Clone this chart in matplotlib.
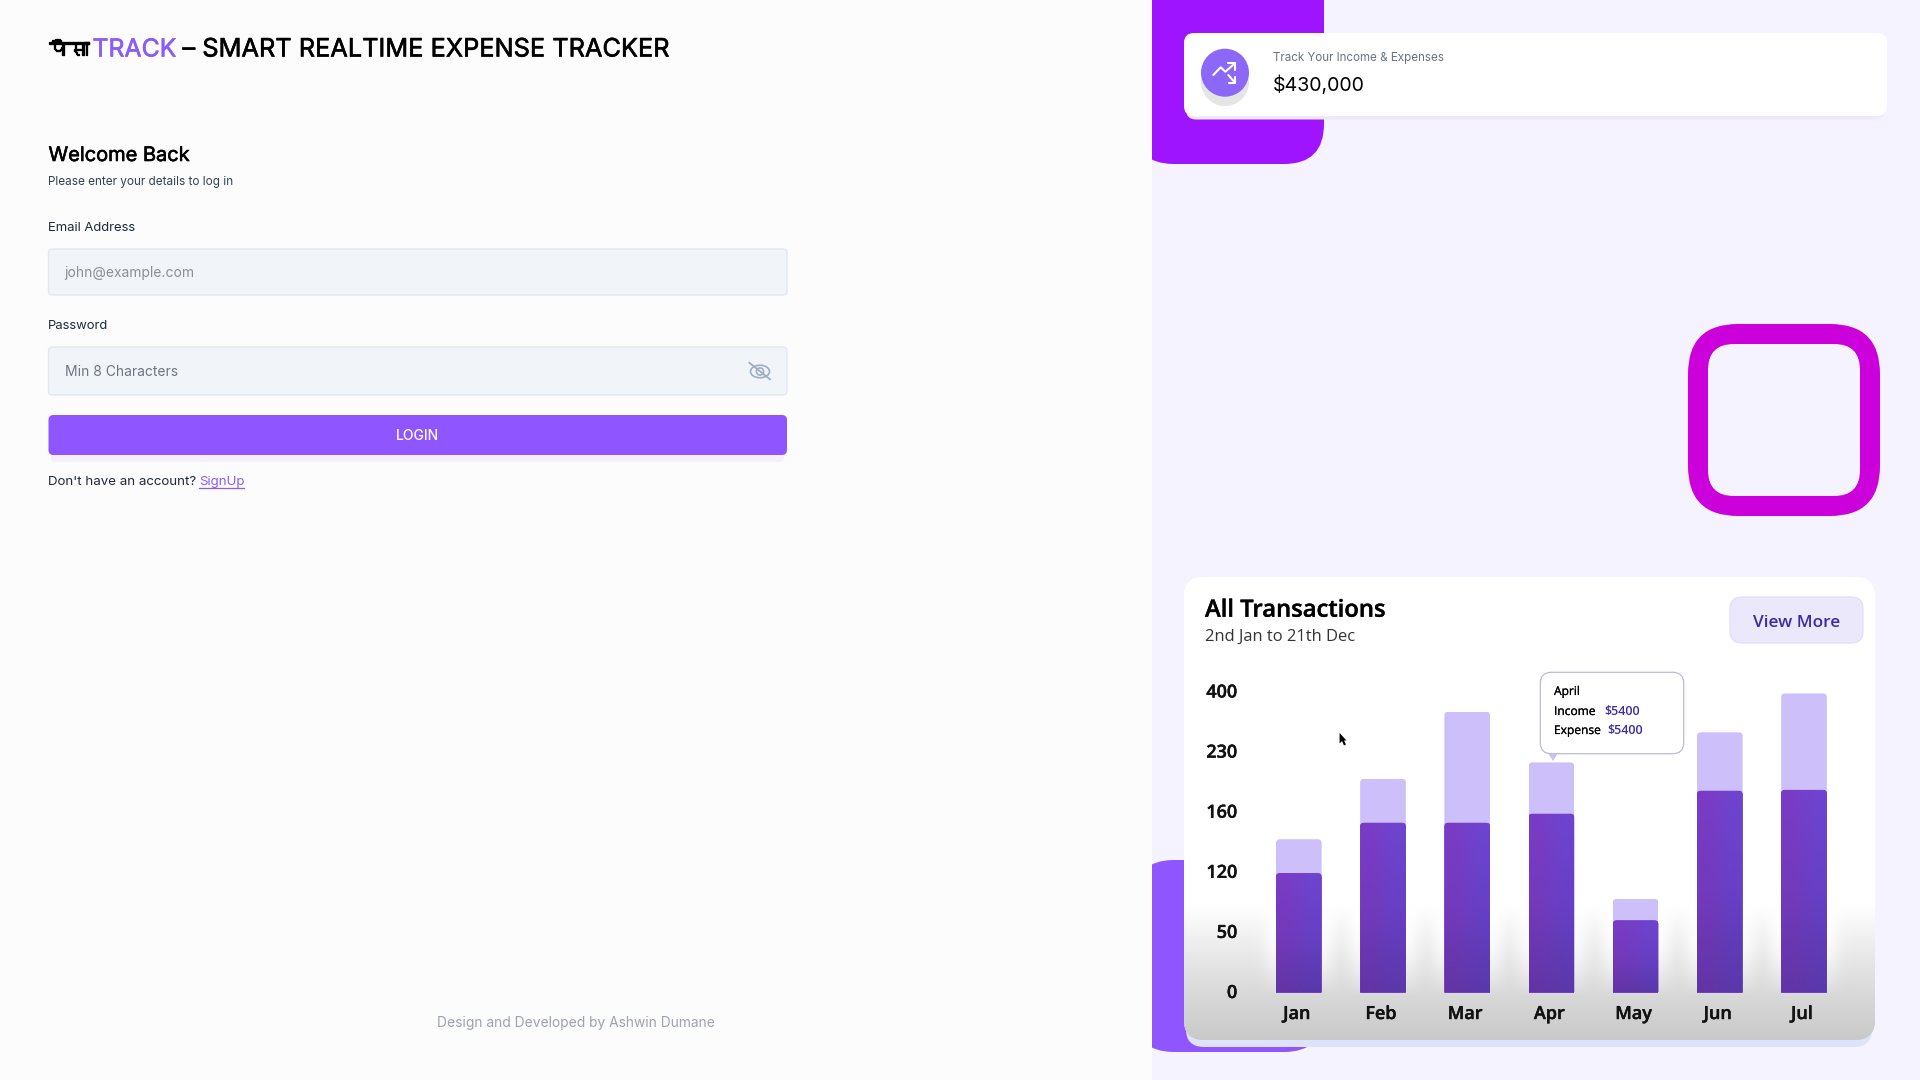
# -*- coding: utf-8 -*-
import numpy as np
import matplotlib
matplotlib.use("Agg")
import matplotlib.pyplot as plt
import matplotlib.patheffects as pe
from matplotlib import font_manager
from matplotlib.ft2font import FT2Font
from matplotlib.patches import FancyBboxPatch, Rectangle, Circle, Ellipse, Polygon
from matplotlib.transforms import ScaledTranslation

# chart data
months = ["Jan", "Feb", "Mar", "Apr", "May", "Jun", "Jul"]
total_values = [142, 199, 344, 218, 89, 286, 396]
income_values = [119, 153, 153, 159, 64, 185, 186]
y_tick_values = [0, 50, 120, 160, 230, 400]
y_tick_labels = ["0", "50", "120", "160", "230", "400"]

# look for something that can draw the hindi word
hindi_font = "DejaVu Sans"
for f in font_manager.fontManager.ttflist:
    try:
        if 0x92A in FT2Font(f.fname).get_charmap():
            hindi_font = f.name
            break
    except Exception:
        pass

UI = "Inter"
POP = "Open Sans"
VIOLET = "#8F55FF"
first_x, step = 1298.8, 84.2
bar_w = 45.7


def rrect(ax, x0, y0, x1, y1, r, **kw):
    p = FancyBboxPatch((x0, y0), x1 - x0, y1 - y0,
                       boxstyle="round,pad=0,rounding_size=%g" % r, linewidth=kw.pop("lw", 0), **kw)
    ax.add_patch(p)
    return p


def txt(ax, x, y, s, px, color="black", family=UI, weight="normal", stroke=0, **kw):
    kw.setdefault("va", "baseline")
    t = ax.text(x, y, s, fontsize=px * 0.72, color=color, family=family, weight=weight, **kw)
    if stroke:
        t.set_path_effects([pe.withStroke(linewidth=stroke * 0.72, foreground=color)])
    return t


fig = plt.figure(figsize=(19.2, 10.8), dpi=100)
bg = fig.add_axes([0, 0, 1, 1], zorder=0)
bg.set_xlim(0, 1920)
bg.set_ylim(1080, 0)
bg.axis("off")

# right panel
bg.add_patch(Rectangle((1152, 0), 768, 1080, fc="#F5F3FF", lw=0))
rrect(bg, 1134, -60, 1324, 164, 40, fc="#9F14FF")
rrect(bg, 1134, 860, 1324, 1052, 40, fc=VIOLET)
rrect(bg, 1688, 324, 1880, 516, 50, fc="#CB00DB")
rrect(bg, 1708, 344, 1860, 496, 26, fc="#F5F3FF")

# left panel sits on top of the blobs
bg.add_patch(Rectangle((0, 0), 1152, 1080, fc="#FCFCFD", lw=0, zorder=3))
lz = dict(zorder=4)

txt(bg, 48.5, 56, "पैसा", 20, family=hindi_font, weight="bold", stroke=1.3, **lz)
txt(bg, 92.5, 56.5, "TRACK", 24.8, color="#8B5CF6", stroke=0.6, **lz)
txt(bg, 182.5, 56.5, "– SMART REALTIME EXPENSE TRACKER", 25.35, stroke=0.6, **lz)

txt(bg, 48.5, 161, "Welcome Back", 20, stroke=0.6, **lz)
txt(bg, 48.5, 185, "Please enter your details to log in", 11.75, color="#334155", **lz)
txt(bg, 48.5, 231, "Email Address", 13, color="#1E293B", **lz)
txt(bg, 48, 329, "Password", 13, color="#1E293B", **lz)

for y0, y1 in [(249, 295), (347, 395)]:
    rrect(bg, 48.5, y0, 787, y1, 4, fc="#F1F5F9", ec="#E2E8F0", lw=1, **lz)
txt(bg, 64.3, 277, "john@example.com", 13.85, color="#8A8F98", **lz)
txt(bg, 65, 376, "Min 8 Characters", 13.85, color="#6F7680", **lz)

# eye icon with the slash through it
eye = "#9FADC1"
bg.add_patch(Ellipse((760, 371.5), 19, 12.5, fc="none", ec=eye, lw=1.2, zorder=4))
bg.add_patch(Circle((760, 371.5), 3.6, fc="none", ec=eye, lw=1.2, zorder=4))
bg.plot([749.3, 770], [362.7, 379.3], color=eye, lw=1.3, zorder=4)

rrect(bg, 51, 440, 784, 462, 4, fc="#F6EFFD", **lz)
rrect(bg, 48.5, 415, 787, 455, 5, fc=VIOLET, zorder=4)
txt(bg, 417.5, 440, "LOGIN", 14, color="white", ha="center", weight="medium", **lz)

txt(bg, 48.5, 485, "Don't have an account?", 13.3, color="#1E293B", **lz)
txt(bg, 199, 485, "SignUp", 13.3, color="#8B5CF6", **lz)
bg.plot([199, 244], [487.5, 487.5], color="#8B5CF6", lw=0.9, zorder=4)

txt(bg, 576, 1027, "Design and Developed by Ashwin Dumane", 13.8, color="#9CA3AF", ha="center", **lz)

# top card
rrect(bg, 1186, 40, 1885, 119.5, 10, fc="#F0E8FD")
rrect(bg, 1184, 33, 1887, 116, 10, fc="white")
bg.add_patch(Circle((1225, 82), 24, fc="#E5E5E5", lw=0))
bg.add_patch(Circle((1225, 72.7), 24, fc="#8C68F8", lw=0))
icon = dict(color="white", lw=1.5, solid_capstyle="round", solid_joinstyle="round")
bg.plot([1213.3, 1220.7, 1225.3, 1235], [75, 67.3, 71.7, 63.3], **icon)
bg.plot([1228.3, 1235.3, 1235.3], [63.3, 63.3, 70], **icon)
bg.plot([1228.3, 1235], [75, 82.7], **icon)
bg.plot([1235.3, 1235.3, 1229.3], [76.7, 82.7, 82.7], **icon)
txt(bg, 1273, 61, "Track Your Income & Expenses", 11.6, color="#6B7280")
txt(bg, 1273, 91, "$430,000", 19.6)

# transactions card, white fading into gray at the bottom, lighter right next to the bars
rrect(bg, 1186, 1000, 1872, 1047, 18, fc="#DDE3FB")
card = rrect(bg, 1184, 577, 1875, 1040, 20, fc="white")
rrect(bg, 1184, 960, 1875, 1040, 20, fc="#CCCCCC")
xs = np.arange(1184, 1875, 2.0)
ys = np.arange(577, 1041, 2.0)
gx, gy = np.meshgrid(xs, ys)
shade = np.interp(gy, [577, 905, 947, 980, 1040], [255, 255, 236, 222, 201])
centers = first_x + step * np.arange(len(months))
dist = np.min(np.abs(gx[..., None] - centers), axis=-1) - bar_w / 2
dist = np.clip(dist, 0, None)
near = np.exp(-(dist / 13.0) ** 2) * np.interp(gy, [905, 945, 975, 995], [1, 0.75, 0.3, 0])
shade = (shade + (255 - shade) * near) / 255.0
im = bg.imshow(np.dstack([shade, shade, shade]), extent=(1184, 1875, 1040, 577),
               aspect="auto", interpolation="bilinear", zorder=1.5)
im.set_clip_path(card)
bg.set_xlim(0, 1920)
bg.set_ylim(1080, 0)

txt(bg, 1205, 616.7, "All Transactions", 23.8, family=POP, weight="semibold", stroke=0.35, zorder=2)
txt(bg, 1205, 641, "2nd Jan to 21th Dec", 16.5, family=POP, color="#333333", zorder=2)
rrect(bg, 1730, 597, 1863, 643, 12, fc="#ECE8FB", ec="#E4DFF8", lw=1, zorder=2)
txt(bg, 1797, 627, "View More", 17.3, color="#3E2BA6", family=POP, weight="semibold", ha="center", zorder=2)

# bar chart on its own axes, ticks are unevenly spaced in value
ax_l, ax_r, ax_t, ax_b = 1240, 1860, 692, 992.5
ax = fig.add_axes([ax_l / 1920, 1 - ax_b / 1080, (ax_r - ax_l) / 1920, (ax_b - ax_t) / 1080], zorder=1)
ax.patch.set_visible(False)
pos = np.arange(len(y_tick_values))
ax.set_yscale("function", functions=(lambda v: np.interp(v, y_tick_values, pos),
                                     lambda p: np.interp(p, pos, y_tick_values)))
ax.set_xlim((ax_l - first_x) / step, (ax_r - first_x) / step)
ax.set_ylim(0, 400)
x = np.arange(len(months))
light = ax.bar(x, total_values, width=bar_w / step, color="#CDBFF9")
dark = ax.bar(x, income_values, width=bar_w / step, color="#6F3FC8")
ax.set_xticks(x, months)
ax.set_yticks(y_tick_values, y_tick_labels)
ax.tick_params(length=0, pad=2)
ax.tick_params(axis="x", pad=9)
for lab in ax.get_xticklabels() + ax.get_yticklabels():
    lab.set(family=POP, weight="semibold", fontsize=18 * 0.72, color="#111111")
    lab.set_path_effects([pe.withStroke(linewidth=0.3, foreground="#111111")])
for lab in ax.get_xticklabels():
    lab.set_transform(lab.get_transform() + ScaledTranslation(-2 / 100, 0, fig.dpi_scale_trans))
for lab in ax.get_yticklabels():
    lab.set_transform(lab.get_transform() + ScaledTranslation(0, 1.5 / 100, fig.dpi_scale_trans))
for s in ax.spines.values():
    s.set_visible(False)

# overlay for gradients and tooltip, same pixel coordinates as bg
ov = fig.add_axes([0, 0, 1, 1], zorder=2)
ov.patch.set_visible(False)
ov.axis("off")
ov.set_xlim(0, 1920)
ov.set_ylim(1080, 0)

fig.canvas.draw()
rend = fig.canvas.get_renderer()


def round_clip(bar):
    e = bar.get_window_extent(rend)
    y0, y1 = 1080 - e.y1, 1080 - e.y0
    p = FancyBboxPatch((e.x0, y0), e.width, y1 - y0 + 8, boxstyle="round,pad=0,rounding_size=4")
    p.set_transform(ov.transData)
    return p, (e.x0, e.x1, y1, y0)


corners = np.array([[[0x7A, 0x3C, 0xC6], [0x6E, 0x44, 0xD0]],
                    [[0x73, 0x3A, 0xBC], [0x67, 0x40, 0xC6]],
                    [[0x62, 0x34, 0xA6], [0x5A, 0x38, 0xAA]]]) / 255.0
# resampled first so the shading runs evenly down the bar
rows = np.linspace(0, 2, 64)
smooth = np.stack([[np.interp(rows, [0, 1, 2], corners[:, c, k]) for k in range(3)]
                   for c in range(2)], axis=1).transpose(2, 1, 0)
for b in light:
    p, _ = round_clip(b)
    b.set_clip_path(p)
for b in dark:
    p, ext = round_clip(b)
    b.set_clip_path(p)
    g = ov.imshow(smooth, extent=ext, aspect="auto", interpolation="bilinear")
    g.set_clip_path(p)
ov.set_xlim(0, 1920)
ov.set_ylim(1080, 0)

# tooltip over April
ov.add_patch(Polygon([(1548, 753), (1558, 753), (1553, 761)], fc="#CDBFF9", lw=0))
rrect(ov, 1540.3, 672.3, 1683.7, 753.7, 11, fc="white", ec="#BDBAD6", lw=0.9)
txt(ov, 1554, 695, "April", 12, family=POP, weight="medium", stroke=0.2)
txt(ov, 1554, 715, "Income", 12, family=POP, weight="medium", stroke=0.2)
txt(ov, 1604, 715, "$5400", 12.5, family=POP, weight="semibold", color="#3E2BA6")
txt(ov, 1554, 734, "Expense", 12, family=POP, weight="medium", stroke=0.2)
txt(ov, 1607, 734, "$5400", 12.5, family=POP, weight="semibold", color="#3E2BA6")

# mouse pointer caught in the screenshot
ov.add_patch(Polygon([(1339.6, 733), (1339.6, 743.5), (1342, 741), (1344, 745.5),
                      (1346, 744.5), (1344, 740.5), (1346.5, 740.5)], fc="black", lw=0))

fig.savefig("out.png", dpi=100)
